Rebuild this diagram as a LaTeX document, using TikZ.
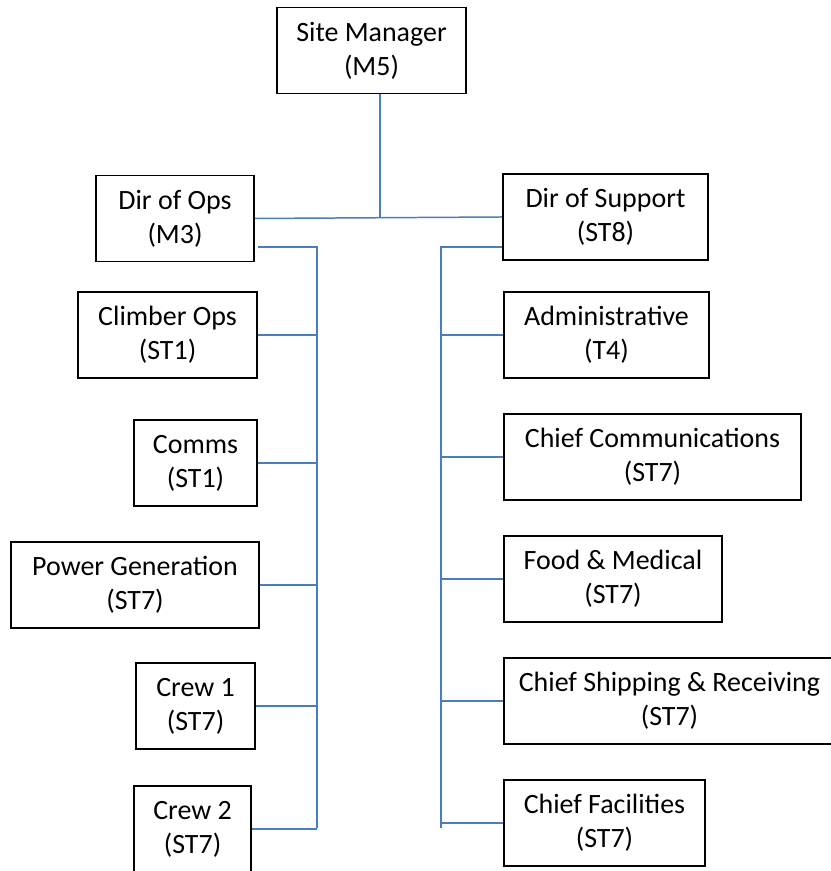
\documentclass[tikz,border=0pt]{standalone}
\usepackage{fontspec}
\setmainfont{Carlito}
\usepackage{tikz}
\usetikzlibrary{positioning,calc}
\definecolor{linkblue}{HTML}{4A7EBB}
\tikzset{
  % boxes
  post/.style={draw=black,line width=1.1pt,fill=white,inner sep=0pt,
               align=center,minimum height=1.72cm,
               font=\fontsize{15.9}{19.3}\selectfont},
  lpost/.style={post,anchor=east},
  rpost/.style={post,anchor=west},
  % lines
  link/.style={draw=linkblue,line width=0.85pt},
}
\begin{document}
\begin{tikzpicture}
\useasboundingbox (0,0) rectangle (16.6,17.42);
  \node[post,minimum width=3.78cm] (mgr) at (7.43,16.41) {Site Manager\\(M5)};
  \node[post,minimum width=3.16cm] (ops) at (3.5,13.05) {Dir of Ops\\(M3)};
  \node[post,minimum width=4.1cm] (sup) at (12.11,13.08) {Dir of Support\\(ST8)};
  % left column
  \node[lpost,minimum width=3.58cm] (climb) at (5.16,10.72) {Climber Ops\\(ST1)};
  \node[lpost,minimum width=2.46cm] (comms) at (5.16,8.16) {Comms\\(ST1)};
  \node[lpost,minimum width=4.96cm] (power) at (5.2,5.72) {Power Generation\\(ST7)};
  \node[lpost,minimum width=2.38cm] (crewa) at (5.12,3.30) {Crew 1\\(ST7)};
  \node[lpost,minimum width=2.34cm] (crewb) at (5.04,0.84) {Crew 2\\(ST7)};
  % right column
  \node[rpost,minimum width=4.1cm] (admin) at (10.06,10.72) {Administrative\\(T4)};
  \node[rpost,minimum width=5.94cm] (ccom) at (10.06,8.28) {Chief Communications\\(ST7)};
  \node[rpost,minimum width=4.36cm] (food) at (10.06,5.84) {Food \& Medical\\(ST7)};
  \node[rpost,minimum width=6.62cm] (ship) at (10.06,3.40) {Chief Shipping \& Receiving\\(ST7)};
  \node[rpost,minimum width=4.02cm] (fac) at (10.06,0.96) {Chief Facilities\\(ST7)};
  % buses
  \coordinate (hub) at (7.6,13.06);
  \coordinate (ltop) at (6.34,12.48);
  \coordinate (lbot) at (6.34,0.86);
  \coordinate (rtop) at (8.82,12.48);
  \coordinate (rbot) at (8.82,0.86);
  \draw[link] (ops.east) -- (sup.west);
  \draw[link] (mgr.south -| hub) -- (hub);
  \draw[link] ([xshift=2pt]ops.east |- ltop) -- (ltop) -- (lbot);
  \draw[link] (sup.west |- rtop) -- (rtop) -- (rbot);
  \foreach \n in {climb,comms,power,crewa,crewb}
    \draw[link] (\n.east) -- (\n.east -| ltop);
  \foreach \n in {admin,ccom,food,ship,fac}
    \draw[link] (\n.west) -- (\n.west -| rtop);
\end{tikzpicture}
\end{document}
